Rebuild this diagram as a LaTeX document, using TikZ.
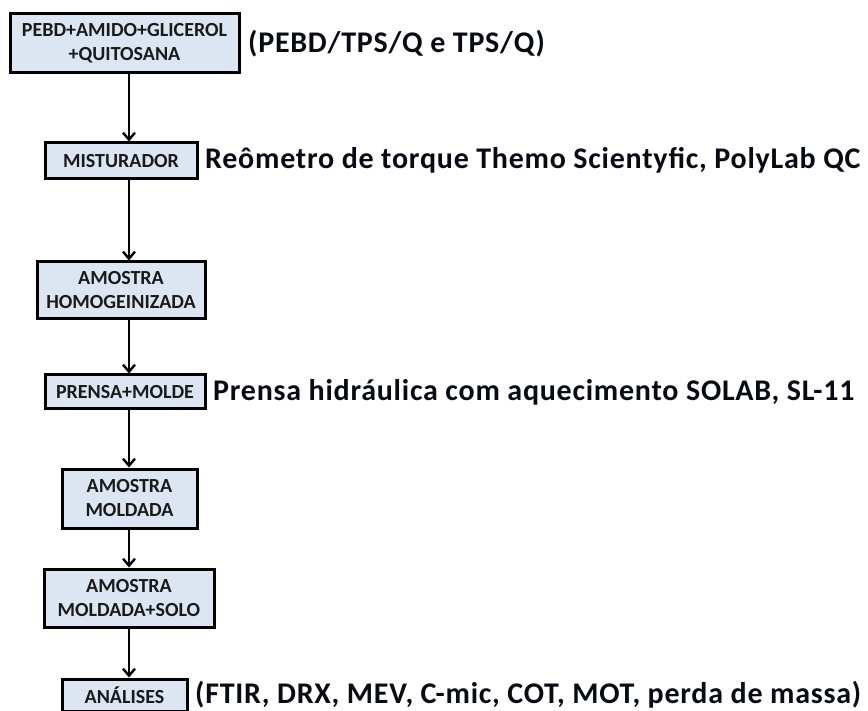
\documentclass[tikz,border=0pt]{standalone}
\usepackage{fontspec}
\setmainfont{Carlito}
\newfontfamily\labfont[LetterSpace=2.5]{Carlito}
\usetikzlibrary{arrows.meta}
\definecolor{boxfill}{HTML}{DCE6F2}
\definecolor{boxtext}{HTML}{1A1A1A}
\definecolor{labtext}{HTML}{0A0A14}
\begin{document}
\begin{tikzpicture}[x=1pt, y=-1pt,
        B/.style={draw, line width=3pt, fill=boxfill, text=boxtext, align=center,
          inner sep=0pt, font=\bfseries\fontsize{20}{24}\selectfont},
        L/.style={anchor=west, inner sep=0pt, text=labtext, font=\labfont\bfseries\fontsize{30}{32}\selectfont},
        arr/.style={line width=2.4pt, -{Straight Barb[length=7pt, width=12pt, line width=2.4pt]}}
      ]
      \useasboundingbox (0,0) rectangle (868,711);
      \coordinate (col) at (129,0);
      \node [B, minimum width=229pt, minimum height=59pt] (mix) at (124.5,43.5) {PEBD+AMIDO+GLICEROL\\+QUITOSANA};
      \node [B, minimum width=152pt, minimum height=36pt] (mist) at (121,161) {MISTURADOR};
      \node [B, minimum width=168pt, minimum height=57pt] (hom) at (121,290.5) {AMOSTRA\\HOMOGEINIZADA};
      \node [B, minimum width=160pt, minimum height=34pt] (pren) at (125,392) {PRENSA+MOLDE};
      \node [B, minimum width=135pt, minimum height=59pt] (mold) at (129.5,498.5) {AMOSTRA\\MOLDADA};
      \node [B, minimum width=170pt, minimum height=58pt] (solo) at (129,598) {AMOSTRA\\MOLDADA+SOLO};
      \node [B, minimum width=125pt, minimum height=32pt] (anal) at (124.5,695) {ANÁLISES};
      % rotulos
      \node [L] (lmix) at (248,44) {(PEBD/TPS/Q e TPS/Q)};
      \node [L] (lmist) at (205,160) {Reômetro de torque Themo Scientyfic, PolyLab QC};
      \node [L] (lpren) at (213,392) {Prensa hidráulica com aquecimento SOLAB, SL-11};
      \node [L] (lanal) at (195,695) {(FTIR, DRX, MEV, C-mic, COT, MOT, perda de massa)};
      % setas
      \draw [arr] (mix.south -| col) -- (mist.north -| col);
      \draw [arr] (mist.south -| col) -- (hom.north -| col);
      \draw [arr] (hom.south -| col) -- (pren.north -| col);
      \draw [arr] (pren.south -| col) -- (mold.north -| col);
      \draw [arr] (mold.south -| col) -- (solo.north -| col);
      \draw [arr] (solo.south -| col) -- (anal.north -| col);
    \end{tikzpicture}
\end{document}
